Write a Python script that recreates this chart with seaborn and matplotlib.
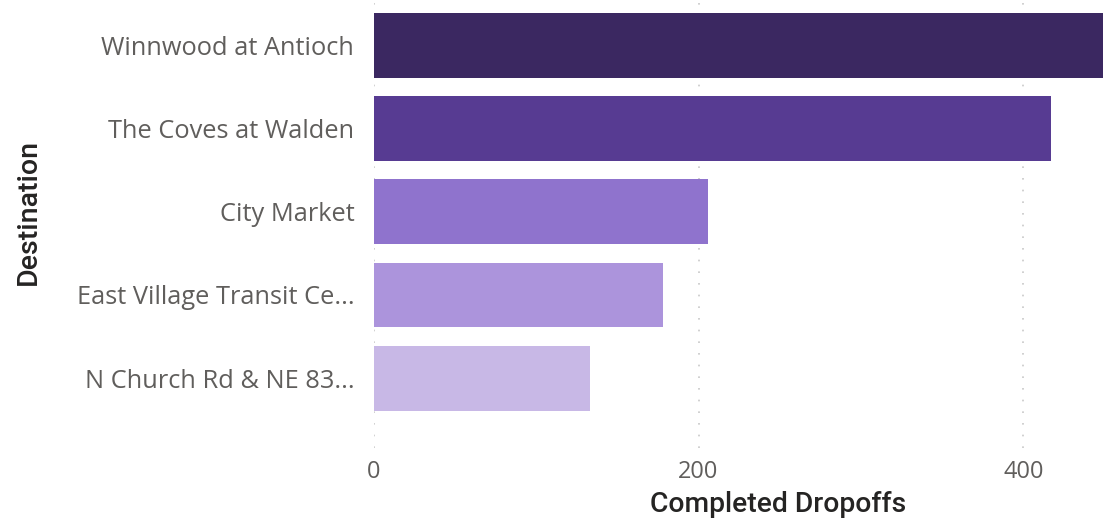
import matplotlib
matplotlib.use("Agg")
import matplotlib.pyplot as plt
import seaborn as sns
import pandas as pd

categories = ["Winnwood at Antioch", "The Coves at Walden", "City Market",
              "East Village Transit Ce...", "N Church Rd & NE 83..."]
values = [449, 417, 206, 178, 133]
colors = ["#3B2861", "#573B92", "#8F73CD", "#AC94DC", "#C8B8E6"]
xticks = [0, 200, 400]

df = pd.DataFrame({"Destination": categories, "Completed Dropoffs": values})

sns.set_theme(style="white")
plt.rcParams["font.family"] = ["Open Sans", "DejaVu Sans"]

W, H = 1117, 525
fig = plt.figure(figsize=(W / 100, H / 100), dpi=100)
left, right, top, bottom = 373.7, 1103, 3, 448
ax = fig.add_axes([left / W, 1 - bottom / H, (right - left) / W, (bottom - top) / H])

sns.barplot(data=df, y="Destination", x="Completed Dropoffs", hue="Destination",
            palette=colors, orient="h", width=0.78, legend=False, ax=ax,
            saturation=1, zorder=3, linewidth=0)

ax.set_xlim(0, 449)
ax.set_ylim(4.84, -0.51)
ax.set_xticks(xticks)
ax.set_xticklabels([str(t) for t in xticks])
for s in ax.spines.values():
    s.set_visible(False)
ax.grid(False)
for t in xticks:
    ax.axvline(t, color="#C8C8C8", linestyle=(0, (1, 6)), linewidth=1.2, zorder=1)

ax.tick_params(axis="y", length=0, pad=14, labelsize=18.3, labelcolor="#605E5C")
ax.tick_params(axis="x", length=0, pad=9, labelsize=17, labelcolor="#605E5C")

ax.set_xlabel("Completed Dropoffs", family=["Roboto", "DejaVu Sans"], fontsize=20.3,
              fontweight="medium", color="#252423")
ax.set_ylabel("Destination", family=["Roboto", "DejaVu Sans"], fontsize=20.5,
              fontweight="medium", color="#252423")
ax.xaxis.set_label_coords((778 - left) / (right - left), -(504 - bottom) / (bottom - top))
ax.yaxis.set_label_coords((28 - left) / (right - left), (bottom - 212) / (bottom - top))
ax.xaxis.label.set_va("center")
ax.yaxis.label.set_va("center")

fig.savefig("out.png", dpi=100)
